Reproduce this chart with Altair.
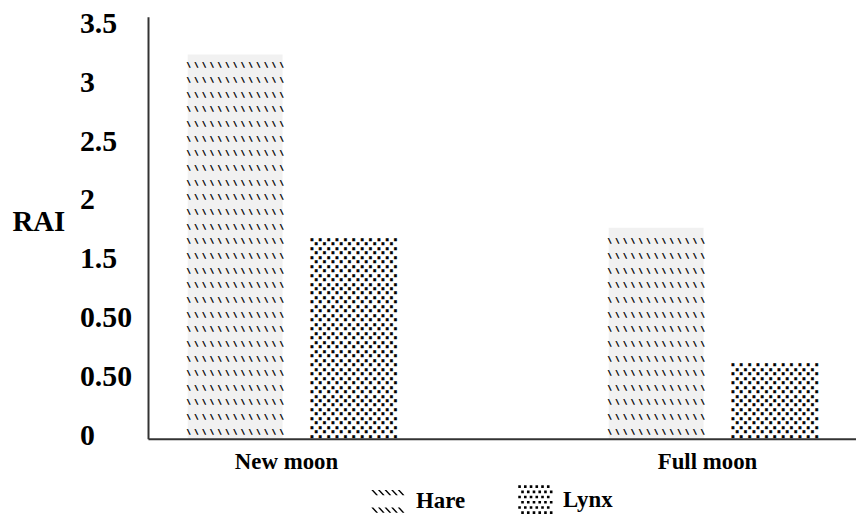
import json
import pandas as pd
import altair as alt

# ---------------- data ----------------
moons = ["New moon", "Full moon"]
species = ["Hare", "Lynx"]
hare_rai = [3.26, 1.79]
lynx_rai = [1.70, 0.66]
y_ticks = [0, 0.5, 1, 1.5, 2, 2.5, 3, 3.5]
y_tick_labels = ["0", "0.50", "0.50", "1.5", "2", "2.5", "3", "3.5"]
y_title = "RAI"

bars = pd.DataFrame({
    "moon": moons * 2,
    "species": ["Hare"] * len(moons) + ["Lynx"] * len(moons),
    "rai": hare_rai + lynx_rai,
})
bars["half"] = bars["rai"] / 2

# ---------------- fill textures (hatch rows / dot rows inside each bar) ----------------
HARE_ROW = "\\ " * 12 + "\\"
HARE_STEP, HARE_START = 0.1243, 0.059
LYNX_ROWS = ["." * 11, "." * 10]
LYNX_STEP, LYNX_START = 0.038, 0.008

hare_rows, lynx_rows = [], []
for m, v in zip(moons, hare_rai):
    k = 0
    while HARE_START + k * HARE_STEP <= v - 0.07:
        hare_rows.append({"moon": m, "species": "Hare", "row": HARE_START + k * HARE_STEP, "txt": HARE_ROW})
        k += 1
for m, v in zip(moons, lynx_rai):
    k = 0
    while LYNX_START + k * LYNX_STEP <= v - 0.02:
        lynx_rows.append({"moon": m, "species": "Lynx", "row": LYNX_START + k * LYNX_STEP, "txt": LYNX_ROWS[k % 2]})
        k += 1
hare_tex = pd.DataFrame(hare_rows)
lynx_tex = pd.DataFrame(lynx_rows)

# legend swatch shapes (unit-square SVG paths, filled polygons)
segs = []
for yy in (-0.5, 0.5):
    for xx in (-0.95, -0.57, -0.19, 0.19, 0.57):
        t, b = yy - 0.15, yy + 0.15
        segs.append(f"M{xx:.2f},{t:.2f}L{xx + 0.11:.2f},{t:.2f}L{xx + 0.39:.2f},{b:.2f}L{xx + 0.28:.2f},{b:.2f}Z")
hare_path = "".join(segs)
sq = []
S = 0.15
for r in range(6):
    yy = -0.85 + r * 0.3
    off = 0.0 if r % 2 == 0 else 0.17
    for c in range(6):
        xx = -0.95 + off + c * 0.33
        sq.append(f"M{xx:.2f},{yy:.2f}L{xx + S:.2f},{yy:.2f}L{xx + S:.2f},{yy + S:.2f}L{xx:.2f},{yy + S:.2f}Z")
lynx_path = "".join(sq)

FONT = "Liberation Serif"

label_expr = f"{json.dumps(y_tick_labels)}[round(datum.value * 2)]"

x_axis = alt.Axis(
    title=None, labelAngle=0, labelFont=FONT, labelFontSize=23, labelFontWeight="bold",
    labelColor="black", labelPadding=12, labelOffset=-8, ticks=False, tickSize=0, grid=False,
    domainColor="#333333", domainWidth=2, zindex=1,
)
y_axis = alt.Axis(
    values=y_ticks, labelExpr=label_expr, title=y_title, titleAngle=0, titleAlign="left",
    titleBaseline="middle", titleX=-137, titleY=206, titleFont=FONT, titleFontSize=29,
    titleFontWeight="bold", titleColor="black", labelFont=FONT, labelFontSize=30,
    labelFontWeight="bold", labelColor="black", labelAlign="left", labelPadding=69,
    labelBaseline="middle", labelOffset=-3, labelFlush=False, labelOverlap=False,
    ticks=False, tickSize=0, grid=False, domainColor="#333333", domainWidth=2, zindex=1,
)

x_scale = alt.Scale(domain=moons, paddingInner=0.493, paddingOuter=0.0873, align=0.54)
xo_scale = alt.Scale(domain=species, paddingInner=0.2, paddingOuter=0)
y_scale = alt.Scale(domain=[0, 3.58], nice=False, zero=True)

X = alt.X("moon:N", sort=moons, scale=x_scale, axis=x_axis)
XO = alt.XOffset("species:N", sort=species, scale=xo_scale)

# points hidden beneath the bars; they only carry the patterned legend
legend_pts = alt.Chart(bars).mark_point(filled=True, color="black").encode(
    x=X, xOffset=XO,
    y=alt.Y("half:Q", scale=y_scale, axis=y_axis),
    shape=alt.Shape("species:N", sort=species,
                    scale=alt.Scale(domain=species, range=[hare_path, lynx_path]),
                    legend=alt.Legend(
                        title=None, orient="none", legendX=223, legendY=468, direction="horizontal",
                        symbolSize=1225, symbolFillColor="black", symbolStrokeColor="black",
                        symbolStrokeWidth=1.5, symbolOpacity=1, labelFont=FONT, labelFontSize=23,
                        labelFontWeight="bold", labelColor="black", labelOffset=10,
                        columnPadding=49, padding=0)),
)

bar_layer = alt.Chart(bars).mark_bar().encode(
    x=X, xOffset=XO,
    y=alt.Y("rai:Q", scale=y_scale, axis=y_axis),
    color=alt.condition(alt.datum.species == species[0], alt.value("#f1f1f1"), alt.value("#ffffff")),
)

hare_layer = alt.Chart(hare_tex).mark_text(
    font="DejaVu Sans Mono", fontSize=6.5, fontWeight="bold", color="#111111",
    stroke="#111111", strokeWidth=0.5, align="center", baseline="middle",
).encode(
    x=X, xOffset=XO,
    y=alt.Y("row:Q", scale=y_scale, axis=y_axis),
    text="txt:N",
)

lynx_layer = alt.Chart(lynx_tex).mark_text(
    font="DejaVu Sans Mono", fontSize=14, fontWeight="bold", color="#000000",
    stroke="#000000", strokeWidth=0.6, align="center", baseline="alphabetic",
).encode(
    x=X, xOffset=XO,
    y=alt.Y("row:Q", scale=y_scale, axis=y_axis),
    text="txt:N",
)

chart = alt.layer(legend_pts, bar_layer, hare_layer, lynx_layer).properties(
    width=713, height=425,
    padding={"left": 141, "top": 7, "right": 0, "bottom": 80},
    autosize=alt.AutoSizeParams(type="none"),
    background="white",
).configure_view(stroke=None)

chart.save("out.html", embed_options={"renderer": "svg", "actions": False})
